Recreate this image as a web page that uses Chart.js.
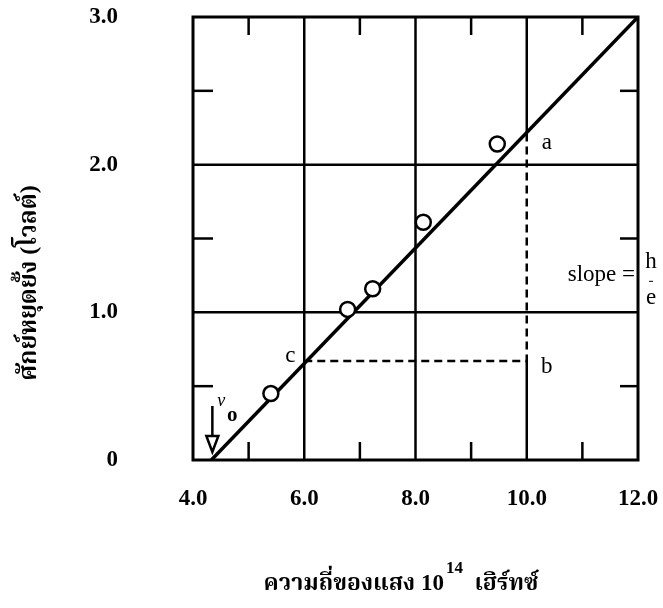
<!DOCTYPE html>
<html>
<head>
<meta charset="utf-8">
<script src="https://cdn.jsdelivr.net/npm/chart.js@4.4.1/dist/chart.umd.min.js"></script>
<style>
  html, body { margin: 0; padding: 0; background: #fff; }
  #wrap { width: 663px; height: 608px; position: relative; }
</style>
</head>
<body>
<div id="wrap"><canvas id="chart"></canvas></div>
<script>
// ---- data ----
const xTickValues = [4, 6, 8, 10, 12];
const xTickLabels = ['4.0', '6.0', '8.0', '10.0', '12.0'];
const yTickValues = [0, 1, 2, 3];
const yTickLabels = ['0', '1.0', '2.0', '3.0'];
const xGrid = [6, 8];
const yGrid = [1, 2];
const xMinor = [5, 7, 9, 11];
const yMinor = [0.5, 1.5, 2.5];

// measured stopping potentials (frequency in 10^14 Hz, volts)
const freq = [5.40, 6.78, 7.23, 8.14, 9.47];
const volt = [0.45, 1.02, 1.16, 1.61, 2.14];

// fitted straight line
const fitX = [4.33, 12.0];
const fitY = [0, 3.0];

// construction lines c -> b -> a
const constrX = [6, 10, 10];
const constrY = [0.67, 0.67, 2.22];

const SERIF = "'Liberation Serif', 'Noto Serif Thai', 'Noto Sans Thai', Norasi, Loma, 'Noto Sans', serif";

const pts = (xs, ys) => xs.map((v, i) => ({ x: v, y: ys[i] }));

function seg(ctx, x1, y1, x2, y2) {
    ctx.beginPath();
    ctx.moveTo(x1, y1);
    ctx.lineTo(x2, y2);
    ctx.stroke();
}

// keep the axes from pushing the plot box around
function noPad(s) {
    s.paddingTop = 0;
    s.paddingBottom = 0;
    s.paddingLeft = 0;
    s.paddingRight = 0;
}

const paper = {
    id: 'paper',
    beforeDatasetsDraw(chart) {
        const { ctx, chartArea: a, scales: { x, y } } = chart;
        ctx.save();
        ctx.strokeStyle = '#000';
        ctx.lineWidth = 2.5;
        yGrid.forEach(v => {
            const py = y.getPixelForValue(v);
            seg(ctx, a.left, py, a.right, py);
        });
        xGrid.forEach(v => {
            const px = x.getPixelForValue(v);
            seg(ctx, px, a.top, px, a.bottom);
        });
        // grid line at 10 is broken by the dashed part a-b
        const p10 = x.getPixelForValue(10);
        seg(ctx, p10, a.top, p10, y.getPixelForValue(constrY[2]));
        seg(ctx, p10, y.getPixelForValue(constrY[1]), p10, a.bottom);

        xMinor.forEach(v => {
            const px = x.getPixelForValue(v);
            seg(ctx, px, a.bottom, px, a.bottom - 18);
            seg(ctx, px, a.top, px, a.top + 18);
        });
        yMinor.forEach(v => {
            const py = y.getPixelForValue(v);
            seg(ctx, a.left, py, a.left + 20, py);
            seg(ctx, a.right, py, a.right - 18, py);
        });
        ctx.lineWidth = 3;
        ctx.strokeRect(a.left, a.top, a.right - a.left, a.bottom - a.top);
        ctx.restore();
    },
    afterDatasetsDraw(chart) {
        const { ctx, chartArea: a, scales: { x, y } } = chart;
        ctx.save();
        ctx.fillStyle = '#000';
        ctx.strokeStyle = '#000';
        ctx.textAlign = 'center';
        ctx.textBaseline = 'middle';

        // point labels a, b, c
        ctx.font = '23px ' + SERIF;
        ctx.fillText('a', x.getPixelForValue(10) + 20, y.getPixelForValue(constrY[2]) + 11);
        ctx.fillText('b', x.getPixelForValue(10) + 20, y.getPixelForValue(constrY[1]) + 6);
        ctx.fillText('c', x.getPixelForValue(6) - 14, y.getPixelForValue(constrY[0]) - 5);

        // slope = h/e
        ctx.textAlign = 'right';
        ctx.fillText('slope =', a.right - 3, y.getPixelForValue(1.25));
        ctx.textAlign = 'center';
        ctx.fillText('h', a.right + 13, y.getPixelForValue(1.34));
        ctx.fillText('e', a.right + 13, y.getPixelForValue(1.1));
        ctx.lineWidth = 1;
        seg(ctx, a.right + 11, y.getPixelForValue(1.21), a.right + 15, y.getPixelForValue(1.21));

        // nu_0 arrow at the intercept
        const ax = x.getPixelForValue(fitX[0]) + 1;
        ctx.lineWidth = 2.5;
        seg(ctx, ax, a.bottom - 54, ax, a.bottom - 24);
        ctx.beginPath();
        ctx.moveTo(ax - 6, a.bottom - 24);
        ctx.lineTo(ax + 6, a.bottom - 24);
        ctx.lineTo(ax, a.bottom - 8);
        ctx.closePath();
        ctx.fillStyle = '#fff';
        ctx.fill();
        ctx.stroke();
        ctx.fillStyle = '#000';
        ctx.font = 'italic 18px ' + SERIF;
        ctx.fillText('ν', ax + 9, a.bottom - 59);
        ctx.font = 'bold 21px ' + SERIF;
        ctx.fillText('o', ax + 20, a.bottom - 44);

        // y axis title
        ctx.save();
        ctx.translate(30, 283);
        ctx.rotate(-Math.PI / 2);
        ctx.font = 'bold 24px ' + SERIF;
        ctx.fillText('ศักย์หยุดยั้ง (โวลต์)', 0, 0);
        ctx.restore();

        // x axis title with superscript
        const main = 'ความถี่ของแสง 10';
        const sup = '14';
        const rest = '  เฮิร์ทซ์';
        const fMain = 'bold 23px ' + SERIF;
        const fSup = 'bold 17px ' + SERIF;
        ctx.font = fMain;
        const wMain = ctx.measureText(main).width;
        const wRest = ctx.measureText(rest).width;
        ctx.font = fSup;
        const wSup = ctx.measureText(sup).width;
        let sx = 400 - (wMain + wSup + wRest) / 2;
        const ty = 584;
        ctx.textAlign = 'left';
        ctx.font = fMain;
        ctx.fillText(main, sx, ty);
        sx += wMain;
        ctx.font = fSup;
        ctx.fillText(sup, sx + 2, ty - 15);
        sx += wSup + 2;
        ctx.font = fMain;
        ctx.fillText(rest, sx, ty);
        ctx.restore();
    }
};

new Chart(document.getElementById('chart'), {
    type: 'scatter',
    data: {
        datasets: [
            {
                label: 'measured',
                data: pts(freq, volt),
                order: 0,
                showLine: false,
                pointStyle: 'circle',
                pointRadius: 7.5,
                pointBorderWidth: 2.5,
                pointBackgroundColor: '#fff',
                pointBorderColor: '#000'
            },
            {
                label: 'fit',
                data: pts(fitX, fitY),
                order: 1,
                showLine: true,
                borderColor: '#000',
                borderWidth: 3.5,
                pointRadius: 0
            },
            {
                label: 'construction',
                data: pts(constrX, constrY),
                order: 2,
                showLine: true,
                borderColor: '#000',
                borderWidth: 2.5,
                borderDash: [8, 5],
                pointRadius: 0
            }
        ]
    },
    options: {
        responsive: true,
        maintainAspectRatio: false,
        animation: false,
        events: [],
        layout: { padding: { top: 17, right: 25, left: 0, bottom: 0 } },
        plugins: {
            legend: { display: false },
            tooltip: { enabled: false }
        },
        scales: {
            x: {
                type: 'linear',
                min: 4, max: 12,
                afterFit: s => { s.height = 148; noPad(s); },
                afterBuildTicks: s => { s.ticks = xTickValues.map(v => ({ value: v })); },
                grid: { display: false, drawTicks: false },
                border: { display: false },
                ticks: {
                    padding: 25,
                    maxRotation: 0,
                    color: '#000',
                    font: { family: SERIF, size: 23, weight: 'bold' },
                    callback: v => xTickLabels[xTickValues.indexOf(v)]
                }
            },
            y: {
                type: 'linear',
                min: 0, max: 3,
                afterFit: s => { s.width = 193; noPad(s); },
                afterBuildTicks: s => { s.ticks = yTickValues.map(v => ({ value: v })); },
                grid: { display: false, drawTicks: false },
                border: { display: false },
                ticks: {
                    padding: 75,
                    color: '#000',
                    font: { family: SERIF, size: 23, weight: 'bold' },
                    callback: v => yTickLabels[yTickValues.indexOf(v)]
                }
            }
        }
    },
    plugins: [paper]
});
</script>
</body>
</html>
